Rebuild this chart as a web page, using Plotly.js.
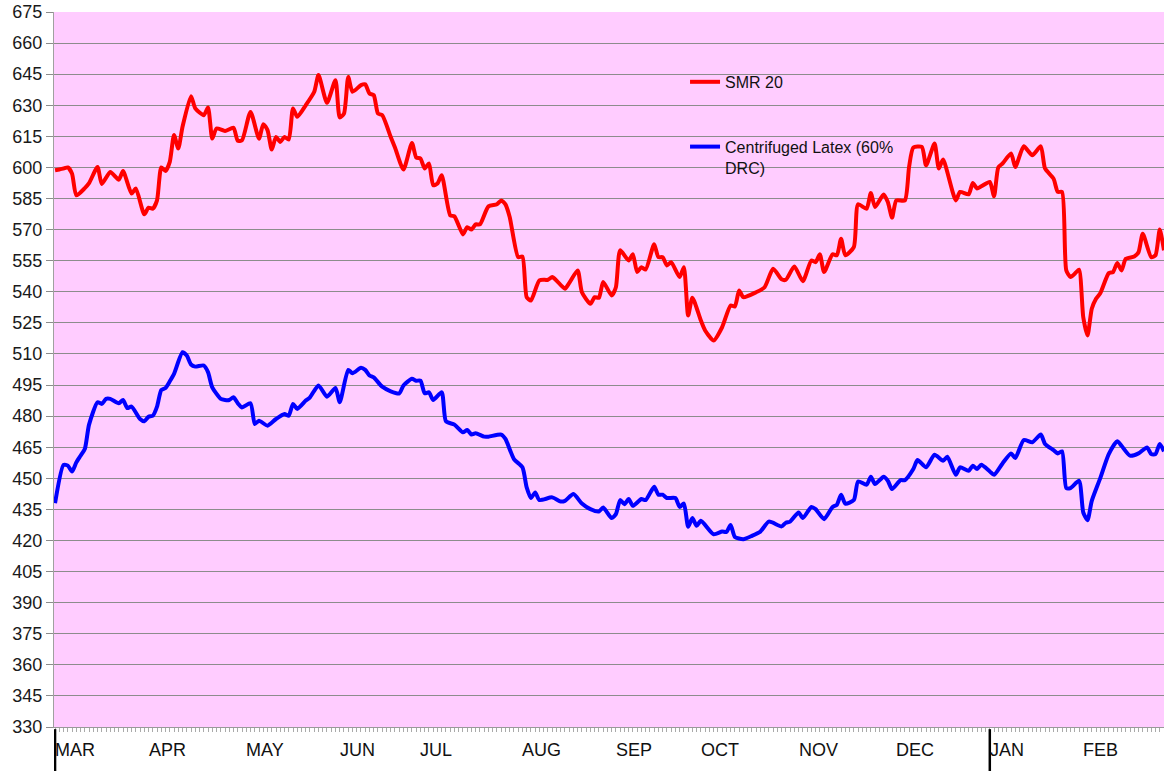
<!DOCTYPE html>
<html>
<head>
<meta charset="utf-8">
<script src="https://cdn.plot.ly/plotly-3.0.1.min.js"></script>
<style>
html,body{margin:0;padding:0;background:#fff;}
#chart{width:1164px;height:771px;}
</style>
</head>
<body>
<div id="chart"></div>
<script>
// Trading-day index (0 = first day of March) and prices
const smrDays = [0,1,2,3,4,5,7,8,10,11,13,15,16,18,19,21,22,23,24,25,26,27,28,29,30,32,33,35,36,37,38,40,42,43,44,46,48,49,50,51,52,53,54,55,56,57,59,61,62,64,66,67,68,69,70,72,73,74,75,76,77,79,80,82,84,85,86,87,88,89,90,91,93,94,96,97,98,99,100,102,104,105,106,107,109,110,111,112,114,116,117,118,120,121,123,124,126,127,128,129,131,132,133,135,136,137,138,139,141,142,143,144,145,147,148,149,150,152,153,155,157,159,160,161,162,165,167,169,171,172,174,176,178,179,180,181,183,184,185,186,188,189,191,192,193,195,196,197,198,200,201,202,204,205,207,208,209,212,213,215,216,217,218,220,221,222,223,225,226,228,230,232,233,235,236,237,238,239,240,241,242,243,244,245,246,248,249,250,251,252,254,255,256,258,259,260,261];
const smrValues = [598.6,599,599.5,600,597,586.5,590,592.4,600.2,592,597.8,594.1,598.3,587.4,589.8,577.4,580.6,580.1,584.1,600,598.3,602.7,615.6,609.1,619.6,634.4,628.5,625.2,628.9,613.9,618.8,617.6,619.1,612.8,613.1,626.8,613.9,620.9,618,608.6,614.7,612.3,614.7,613.5,628.5,624.4,630,636.5,644.6,631.2,642.1,624.1,626,643.7,636.5,639.7,640.1,635.7,634.9,626,625.2,614.7,609.6,599,611.8,604.8,604.3,599.5,601.9,591.4,592.2,596.2,576.9,576.4,567.7,571.2,570,572.5,572.5,581.2,582.2,584.1,582.2,576.1,556.7,557,537.4,535.8,545.5,545.8,547.1,545.5,541.5,544.2,550.3,539.8,534.2,537.4,537.1,544.7,538.2,542.2,560,555.1,558.1,549.5,551.9,550.7,562.9,556.7,556.7,552.7,554.3,547.1,551.9,528.6,537.1,526.1,521.3,516.5,522.9,533.4,532.9,540.6,537.4,539.8,542.2,551.1,546,545.8,552.2,545.1,555.1,554.3,558.1,549.5,558.1,557.6,565.6,557.6,561.6,582.2,580.1,587.7,580.9,587,583.3,575.8,584.1,584.1,600.2,609.6,609.9,601,611.5,599.5,603.8,584.1,588.2,587,592.5,589.8,590.9,593,586.1,600,601.9,606.7,600.2,610.2,605.9,610.2,599.5,594.6,588.2,588.2,550.3,547.1,548.7,550.7,527.7,518.9,531.8,536.6,539.3,549,549.5,553.9,550.3,555.9,557,559.1,568,556.7,557.6,570,560];

const latexDays = [0,2,3,4,5,6,7,8,10,11,12,13,15,16,17,18,20,21,22,23,24,25,26,27,28,30,31,32,33,35,36,37,39,40,41,42,43,44,46,47,48,50,52,54,55,56,57,59,60,62,64,66,67,69,70,72,73,74,75,77,79,81,82,84,85,86,87,88,89,91,92,94,96,97,98,99,101,102,105,106,108,110,111,112,113,114,117,119,120,122,124,126,128,129,131,132,133,134,135,136,138,139,141,142,143,144,146,147,148,149,150,151,152,155,157,158,159,160,162,164,166,168,171,172,173,175,176,178,179,181,183,184,185,186,188,189,191,192,193,195,196,197,199,200,202,203,205,207,209,210,212,213,215,216,217,218,220,221,223,225,226,228,230,232,233,235,236,237,238,239,241,242,243,244,246,248,250,251,253,255,257,258,259,260,261];
const latexValues = [438,456.5,456.1,453.3,457.7,460.9,464.1,475.9,486.7,485.9,488.3,488.3,486.2,487.8,483.9,484.6,478.6,477.5,479.7,480.2,484.6,492.6,493.6,496.8,500.4,510.8,509.2,504.9,503.9,504.4,501.2,493.9,488.3,487.8,487.8,489.1,486.2,484.2,486.2,476.2,477.8,475.4,478.6,481,480.2,485.9,483.5,487.5,489.1,494.8,489.4,493.6,486.7,502.3,500.7,503.3,502.3,499.6,498.7,494.2,492,491,494.8,498,497.1,497.1,491,491.5,487.8,491.5,477.5,475.9,472.2,473.3,471.1,471.7,470.1,470.1,471.1,469,459.3,455.3,445.6,440.5,443.2,439.5,440.8,438.8,439.1,442.4,437.8,435.1,434,435.9,430.8,432.7,439.5,437.5,440,436.7,440,439.5,445.9,442.1,442.1,440.5,440.5,436.2,437.8,426.6,430.8,427.1,429.5,423,424.3,424.1,427.5,421.7,420.6,422.2,424.3,429.1,426.8,428.6,429.1,433.5,430.8,436.2,435.1,430.3,436.2,437.2,442.1,437.8,439.5,448.5,446.9,450.7,447.2,450.7,448.8,444.8,449.1,449.1,454.5,458.8,455.3,461.4,458.5,460.4,451.7,455.3,453.6,456.1,454.5,456.5,453.3,451.7,457.2,462,459.8,468.5,467.4,471.1,466.6,463.6,462,463,445.3,445.3,448.8,433.5,429.8,439.1,450.1,461.7,467.9,465.7,460.9,462,464.9,461.7,461.7,466.6,463];

const monthLabels = ['MAR','APR','MAY','JUN','JUL','AUG','SEP','OCT','NOV','DEC','JAN','FEB'];
const monthStartDays = [0,22,45,67,86,110,132,152,175,198,220,242];
const yearStartDays = [0,220];

const seriesNames = ['SMR 20','Centrifuged Latex (60%<br>DRC)'];

const FONT = 'Liberation Sans, Arial, sans-serif';

const traces = [
  {x: smrDays, y: smrValues, name: seriesNames[0], type: 'scatter', mode: 'lines',
   line: {color: '#ff0000', width: 4, shape: 'spline', smoothing: 0.6}, legendgroup: 'a'},
  {x: latexDays, y: latexValues, name: seriesNames[1], type: 'scatter', mode: 'lines',
   line: {color: '#0000ff', width: 4, shape: 'spline', smoothing: 0.6}, legendgroup: 'b'}
];

const annotations = monthLabels.map((m, i) => ({
  x: monthStartDays[i], y: 0, xref: 'x', yref: 'paper',
  xanchor: 'left', yanchor: 'top', xshift: -2, yshift: -11,
  text: m, showarrow: false,
  font: {family: FONT, size: 18, color: '#111'}
}));

const shapes = yearStartDays.map(d => ({
  type: 'line', xref: 'x', yref: 'paper', x0: d, x1: d, y0: -0.003, y1: -0.07,
  line: {color: '#000', width: 2.5}, layer: 'above'
}));

const layout = {
  width: 1164, height: 771,
  margin: {l: 54, r: 0, t: 12, b: 44},
  paper_bgcolor: '#ffffff',
  plot_bgcolor: '#ffccff',
  showlegend: true,
  legend: {
    x: 0.5685, y: 0.926, xanchor: 'left', yanchor: 'top',
    bgcolor: 'rgba(0,0,0,0)', borderwidth: 0,
    font: {family: FONT, size: 16, color: '#111'},
    traceorder: 'grouped', tracegroupgap: 41, valign: 'top', itemwidth: 30
  },
  xaxis: {
    range: [-0.25, 261], showgrid: false, zeroline: false,
    showline: true, linecolor: '#999', linewidth: 1,
    ticks: 'outside', tickmode: 'linear', tick0: 0, dtick: 1,
    ticklen: 4, tickwidth: 1, tickcolor: '#aaa', showticklabels: false
  },
  yaxis: {
    range: [330, 675], tickmode: 'linear', tick0: 330, dtick: 15,
    showgrid: true, gridcolor: '#8c8c8c', gridwidth: 1, zeroline: false,
    showline: true, linecolor: '#a0a0a0', linewidth: 1,
    ticks: 'outside', ticklen: 7, tickcolor: '#8c8c8c',
    tickfont: {family: FONT, size: 18, color: '#1a1a1a'}
  },
  annotations: annotations,
  shapes: shapes
};

Plotly.newPlot('chart', traces, layout, {displayModeBar: false, staticPlot: true});
</script>
</body>
</html>
